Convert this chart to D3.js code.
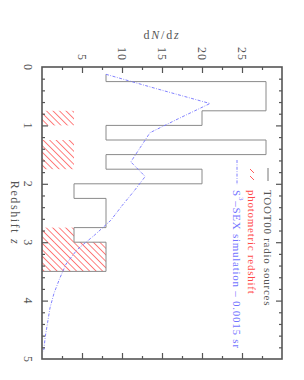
<!DOCTYPE html>
<html>
<head>
<meta charset="utf-8">
<script src="https://cdn.jsdelivr.net/npm/d3@7"></script>
<style>
  body { margin: 0; background: #fff; }
  text { font-family: "Liberation Serif", serif; }
</style>
</head>
<body>
<script>
// TOOT00 histogram (bin edges in z, dN/dz)
const histLo = [0.125, 0.25, 0.75, 1.0, 1.25, 1.5, 1.75, 2.0, 2.25, 2.75, 3.0];
const histHi = [0.25, 0.75, 1.0, 1.25, 1.5, 1.75, 2.0, 2.25, 2.75, 3.0, 3.5];
const histVal = [8, 28, 20, 8, 28, 8, 20, 4, 8, 4, 8];

// photometric redshift (hatched)
const photoLo = [0.75, 1.25, 2.75, 3.0];
const photoHi = [1.0, 1.75, 3.0, 3.5];
const photoVal = [4, 4, 4, 8];

// S3-SEX simulation
const simZ = [0.125, 0.375, 0.625, 0.875, 1.125, 1.375, 1.625, 1.875, 2.125, 2.375,
              2.625, 2.875, 3.125, 3.375, 3.625, 3.875, 4.125, 4.375, 4.625, 4.875];
const simVal = [8.0, 14.4, 21.0, 17.2, 13.5, 12.3, 11.1, 12.9, 11.5, 10.0,
                8.6, 6.6, 4.4, 3.0, 2.2, 1.5, 1.0, 0.7, 0.4, 0.2];

const dnTicks = [5, 10, 15, 20, 25];
const zTicks = [0, 1, 2, 3, 4, 5];
const legendText = ['TOOT00 radio sources', 'photometric redshift'];

const W = 304, H = 380;
const svg = d3.select('body').append('svg').attr('width', W).attr('height', H);

// dN/dz horizontal, redshift vertical
const x = d3.scaleLinear().domain([0, 30]).range([42, 282]);
const y = d3.scaleLinear().domain([0, 5]).range([67, 359]);

const axisCol = '#555';
const defs = svg.append('defs');
const pat = defs.append('pattern')
    .attr('id', 'hatch')
    .attr('patternUnits', 'userSpaceOnUse')
    .attr('width', 4.6).attr('height', 4.6)
    .attr('patternTransform', 'rotate(-45)');
pat.append('line')
    .attr('x1', 0).attr('y1', 0).attr('x2', 0).attr('y2', 4.6)
    .attr('stroke', '#ff4a4a').attr('stroke-width', 1.4);

// hatched photometric boxes
svg.append('g').selectAll('rect')
    .data(photoVal)
    .join('rect')
    .attr('x', x(0))
    .attr('y', (d, i) => y(photoLo[i]))
    .attr('width', d => x(d) - x(0))
    .attr('height', (d, i) => y(photoHi[i]) - y(photoLo[i]))
    .attr('fill', 'url(#hatch)');

// histogram step outline
let pts = [];
histVal.forEach((v, i) => {
    pts.push([v, histLo[i]]);
    pts.push([v, histHi[i]]);
});
pts.push([0, histHi[histHi.length - 1]]);
svg.append('path')
    .attr('d', d3.line().x(d => x(d[0])).y(d => y(d[1]))(pts))
    .attr('fill', 'none')
    .attr('stroke', '#8a8a8a')
    .attr('stroke-width', 1);

// simulation
svg.append('path')
    .attr('d', d3.line().x((d, i) => x(simVal[i])).y((d, i) => y(simZ[i]))(simZ))
    .attr('fill', 'none')
    .attr('stroke', '#7373ff')
    .attr('stroke-width', 0.9)
    .attr('stroke-dasharray', '3,1.5,0.8,1.5');

// ticks
const addTicks = (axis, tr, size, vals) => {
    const g = svg.append('g').attr('transform', tr)
        .call(axis.tickValues(vals).tickSize(size).tickFormat(''));
    g.select('.domain').remove();
    g.selectAll('line').attr('stroke', axisCol).attr('stroke-width', 1.2);
    return g;
};
const dnMinor = d3.range(2.5, 30, 5);
const zMinor = d3.range(0, 5.01, 0.2).filter(v => Math.abs(v - Math.round(v)) > 0.01);
const dnMajor = [5, 10, 15, 20, 25];
const zMajor = [1, 2, 3, 4];
addTicks(d3.axisTop(x), `translate(0,${y(0)})`, -6, dnMajor);
addTicks(d3.axisTop(x), `translate(0,${y(0)})`, -3, dnMinor);
addTicks(d3.axisBottom(x), `translate(0,${y(5)})`, -6, dnMajor);
addTicks(d3.axisBottom(x), `translate(0,${y(5)})`, -3, dnMinor);
addTicks(d3.axisLeft(y), `translate(${x(0)},0)`, -6, zMajor);
addTicks(d3.axisLeft(y), `translate(${x(0)},0)`, -3, zMinor);
addTicks(d3.axisRight(y), `translate(${x(30)},0)`, -6, zMajor);
addTicks(d3.axisRight(y), `translate(${x(30)},0)`, -3, zMinor);

// frame
svg.append('rect')
    .attr('x', x(0)).attr('y', y(0))
    .attr('width', x(30) - x(0)).attr('height', y(5) - y(0))
    .attr('fill', 'none').attr('stroke', axisCol).attr('stroke-width', 1.6);

// tick labels (rotated)
svg.append('g').selectAll('text')
    .data(dnTicks)
    .join('text')
    .attr('transform', d => `translate(${x(d)},${y(0) - 6}) rotate(90)`)
    .attr('text-anchor', 'end')
    .attr('dominant-baseline', 'central')
    .attr('font-size', 12)
    .attr('letter-spacing', 1)
    .attr('fill', axisCol)
    .text(d => d);
svg.append('g').selectAll('text')
    .data(zTicks)
    .join('text')
    .attr('transform', d => `translate(${x(0) - 14},${y(d)}) rotate(90)`)
    .attr('text-anchor', 'middle')
    .attr('dominant-baseline', 'central')
    .attr('font-size', 12)
    .attr('fill', axisCol)
    .text(d => d);

// axis titles
const t1 = svg.append('text')
    .attr('x', x(15)).attr('y', 39)
    .attr('text-anchor', 'middle')
    .attr('font-size', 12)
    .attr('letter-spacing', 1.8)
    .attr('fill', axisCol);
t1.append('tspan').text('d');
t1.append('tspan').attr('font-style', 'italic').text('N');
t1.append('tspan').text('/d');
t1.append('tspan').attr('font-style', 'italic').text('z');

const t2 = svg.append('text')
    .attr('transform', `translate(15,${y(2.5)}) rotate(90)`)
    .attr('text-anchor', 'middle')
    .attr('dominant-baseline', 'central')
    .attr('font-size', 12)
    .attr('letter-spacing', 1.6)
    .attr('fill', axisCol);
t2.append('tspan').text('Redshift ');
t2.append('tspan').attr('font-style', 'italic').text('z');

// legend
const legX = [268, 252, 237];
const legCol = ['#555', '#ff4a4a', '#7373ff'];
svg.append('line')
    .attr('x1', legX[0]).attr('x2', legX[0]).attr('y1', 168).attr('y2', 181)
    .attr('stroke', '#777').attr('stroke-width', 1);
[171, 178].forEach(v => {
    svg.append('line')
        .attr('x1', legX[1] - 2).attr('x2', legX[1] + 2)
        .attr('y1', v - 2).attr('y2', v + 2)
        .attr('stroke', legCol[1]).attr('stroke-width', 0.9);
});
svg.append('line')
    .attr('x1', legX[2]).attr('x2', legX[2]).attr('y1', 160).attr('y2', 185)
    .attr('stroke', legCol[2]).attr('stroke-width', 0.9)
    .attr('stroke-dasharray', '3,1.5,0.8,1.5');

legendText.forEach((s, i) => {
    svg.append('text')
        .attr('transform', `translate(${legX[i]},190) rotate(90)`)
        .attr('dominant-baseline', 'central')
        .attr('font-size', 11)
        .attr('letter-spacing', 0.75)
        .attr('fill', legCol[i])
        .text(s);
});
const t3 = svg.append('text')
    .attr('transform', `translate(${legX[2]},190) rotate(90)`)
    .attr('dominant-baseline', 'central')
    .attr('font-size', 11)
    .attr('letter-spacing', 0.75)
    .attr('fill', legCol[2]);
t3.append('tspan').text('S');
t3.append('tspan').attr('font-size', 7).attr('dy', -4).text('3');
t3.append('tspan').attr('dy', 4).text('\u2013SEX simulation \u2013 0.0015 sr');
</script>
</body>
</html>
